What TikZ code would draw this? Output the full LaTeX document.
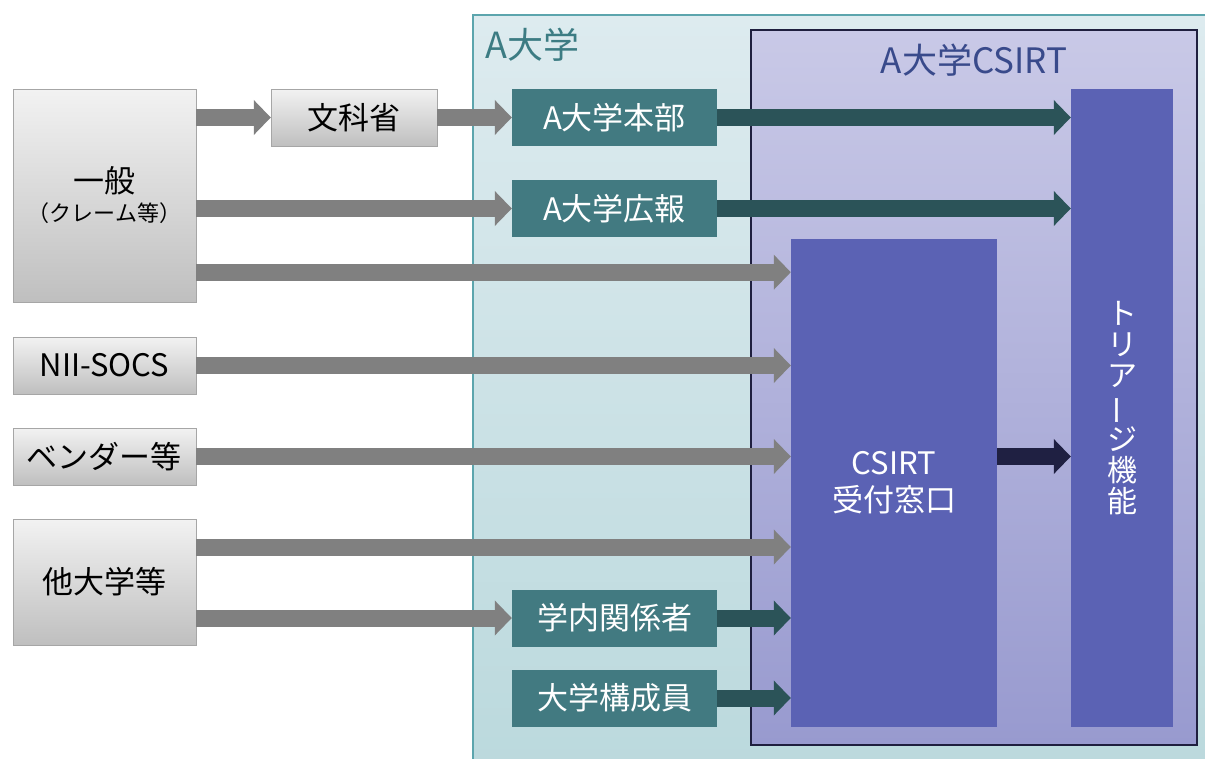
\documentclass[tikz,border=0pt]{standalone}
\usepackage{fontspec}
\setmainfont{Noto Sans CJK JP}
\usetikzlibrary{arrows.meta,shadings}
\definecolor{grayline}{HTML}{A6A6A6}
\definecolor{graytop}{HTML}{F2F2F2}
\definecolor{graybot}{HTML}{BFBFBF}
\definecolor{grayarrow}{HTML}{808080}
\definecolor{univline}{HTML}{5CA5AD}
\definecolor{univtop}{HTML}{DDEBEF}
\definecolor{univbot}{HTML}{BBD9DD}
\definecolor{univtext}{HTML}{3C7C83}
\definecolor{csirtline}{HTML}{1F1F3F}
\definecolor{csirttop}{HTML}{C9C9E7}
\definecolor{csirtbot}{HTML}{989ACF}
\definecolor{csirttext}{HTML}{394A8B}
\definecolor{deskblue}{HTML}{5B62B4}
\definecolor{tealbox}{HTML}{427A81}
\definecolor{tealarrow}{HTML}{2B5358}
\definecolor{navyarrow}{HTML}{1F2042}
\newcommand{\bigjp}{\fontsize{31}{37}\selectfont}
\newcommand{\tatebar}{\rotatebox[origin=c]{90}{ー}}
\begin{document}
\begin{tikzpicture}[x=1pt,y=-1pt,
    graybox/.style={draw=grayline,top color=graytop,bottom color=graybot,
        minimum width=183pt,inner sep=0pt,align=center,font=\bigjp},
    tealnode/.style={fill=tealbox,text=white,minimum width=205pt,
        minimum height=57pt,inner sep=0pt,font=\bigjp},
    bluebox/.style={fill=deskblue,text=white,inner sep=0pt,align=center,font=\bigjp},
    grayarr/.style={draw=grayarrow,line width=17pt,-{Triangle[length=17pt,width=34pt]}},
    tealarr/.style={grayarr,draw=tealarrow},
    navyarr/.style={grayarr,draw=navyarrow}]

    \useasboundingbox (0,0) rectangle (1205,758);

    % A大学の枠
    \draw[draw=univline,line width=1.5pt,top color=univtop,bottom color=univbot]
        (473,15) rectangle (1215,770);
    \node[anchor=west,text=univtext,font=\fontsize{36}{36}\selectfont] (univ) at (482,45) {A大学};

    % A大学CSIRTの枠
    \draw[draw=csirtline,line width=2pt,top color=csirttop,bottom color=csirtbot]
        (751,30) rectangle (1197,745);
    \node[text=csirttext,font=\fontsize{35}{35}\selectfont] (csirt) at (974,60) {A大学CSIRT};

    % CSIRT内の箱
    \node[bluebox,minimum width=102pt,minimum height=638pt,
        font=\fontsize{30}{31}\selectfont] (triage) at (1122,408)
        {ト\\リ\\ア\\\tatebar\\ジ\\機\\能};
    \node[bluebox,minimum width=206pt,minimum height=488pt] (desk) at (894,483)
        {CSIRT\\受付窓口};

    % 外部の箱
    \node[graybox,minimum height=213pt] (gen) at (104.5,195.5)
        {一般\\[-8pt]{\fontsize{22}{24}\selectfont （クレーム等）}};
    \node[graybox,minimum width=166pt,minimum height=57pt] (mext) at (354,117.5) {文科省};
    \node[graybox,minimum height=57pt] (nii) at (104.5,365.5) {NII-SOCS};
    \node[graybox,minimum height=57pt] (vend) at (104.5,456.5) {ベンダー等};
    \node[graybox,minimum height=126pt] (other) at (104.5,582) {他大学等};

    % 学内の箱
    \node[tealnode] (hq) at (614.5,117.5) {A大学本部};
    \node[tealnode] (pr) at (614.5,208.5) {A大学広報};
    \node[tealnode] (insider) at (614.5,618) {学内関係者};
    \node[tealnode] (member) at (614.5,698) {大学構成員};

    % 灰色の矢印
    \draw[grayarr] (gen.east |- mext.west) -- (mext.west);
    \draw[grayarr] (mext.east) -- (hq.west);
    \draw[grayarr] (gen.east |- pr.west) -- (pr.west);
    \draw[grayarr] ([yshift=30pt]gen.south east) coordinate (g3) -- (desk.west |- g3);
    \draw[grayarr] (nii.east) -- (desk.west |- nii.east);
    \draw[grayarr] (vend.east) -- (desk.west |- vend.east);
    \draw[grayarr] ([yshift=35pt]other.east) coordinate (o1) -- (desk.west |- o1);
    \draw[grayarr] (other.east |- insider.west) -- (insider.west);

    % 学内からの矢印
    \draw[tealarr] (hq.east) -- (triage.west |- hq.east);
    \draw[tealarr] (pr.east) -- (triage.west |- pr.east);
    \draw[tealarr] (insider.east) -- (desk.west |- insider.east);
    \draw[tealarr] (member.east) -- (desk.west |- member.east);

    % 受付からトリアージへ
    \draw[navyarr] (desk.east |- vend.east) -- (triage.west |- vend.east);
\end{tikzpicture}
\end{document}
